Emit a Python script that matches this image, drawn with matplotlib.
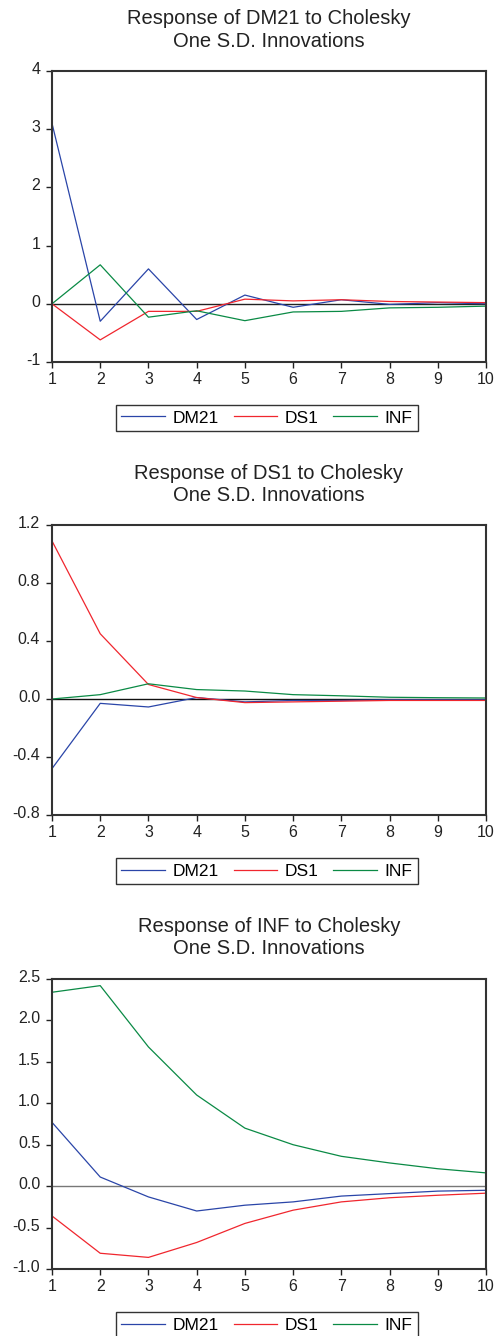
import matplotlib.pyplot as plt
import matplotlib.transforms as mtransforms
import numpy as np

periods = np.arange(1, 11)
series_names = ['DM21', 'DS1', 'INF']
colors = ['#2a45a8', '#f0262e', '#0a8a45']

# Response of DM21
dm21_dm21 = [3.10, -0.30, 0.60, -0.27, 0.15, -0.06, 0.07, -0.01, 0.02, 0.00]
dm21_ds1 = [0.00, -0.62, -0.13, -0.13, 0.08, 0.05, 0.07, 0.04, 0.03, 0.02]
dm21_inf = [0.00, 0.67, -0.23, -0.12, -0.29, -0.14, -0.13, -0.07, -0.06, -0.04]

# Response of DS1
ds1_dm21 = [-0.48, -0.03, -0.055, 0.01, -0.02, -0.01, -0.01, -0.005, -0.005, -0.005]
ds1_ds1 = [1.09, 0.45, 0.10, 0.01, -0.025, -0.02, -0.015, -0.01, -0.01, -0.01]
ds1_inf = [0.00, 0.03, 0.105, 0.065, 0.055, 0.03, 0.022, 0.012, 0.009, 0.007]

# Response of INF
inf_dm21 = [0.77, 0.11, -0.13, -0.30, -0.23, -0.19, -0.12, -0.09, -0.06, -0.05]
inf_ds1 = [-0.36, -0.81, -0.86, -0.68, -0.45, -0.29, -0.19, -0.14, -0.11, -0.085]
inf_inf = [2.34, 2.42, 1.68, 1.10, 0.70, 0.50, 0.36, 0.28, 0.21, 0.16]

panels = [
    ('DM21', [dm21_dm21, dm21_ds1, dm21_inf], (-1, 4), [-1, 0, 1, 2, 3, 4], '%d', '#222222'),
    ('DS1', [ds1_dm21, ds1_ds1, ds1_inf], (-0.8, 1.2), [-0.8, -0.4, 0.0, 0.4, 0.8, 1.2], '%.1f', '#111111'),
    ('INF', [inf_dm21, inf_ds1, inf_inf], (-1.0, 2.5), [-1.0, -0.5, 0.0, 0.5, 1.0, 1.5, 2.0, 2.5], '%.1f', '#777777'),
]

# pixel layout: (axes top, axes bottom, title center y, legend center y)
layout = [(71, 362, 30, 418), (525, 815, 484.5, 871), (979, 1269, 937.5, 1325)]

W, H = 496, 1336
plt.rcParams['font.family'] = ['Liberation Sans', 'DejaVu Sans']
fig = plt.figure(figsize=(W / 100, H / 100), dpi=100)
lift = mtransforms.ScaledTranslation(0, 3 / 100, fig.dpi_scale_trans)

left, right = 52, 486
for (name, data, ylim, yticks, fmt, zcol), (top, bot, ty, ly) in zip(panels, layout):
    ax = fig.add_axes([left / W, 1 - bot / H, (right - left) / W, (bot - top) / H])
    ax.axhline(0, color=zcol, lw=1.0, zorder=1)
    lines = []
    for vals, c, lab in zip(data, colors, series_names):
        ln, = ax.plot(periods, vals, color=c, lw=0.9, label=lab, zorder=2)
        lines.append(ln)
    ax.set_xlim(1, 10)
    ax.set_ylim(*ylim)
    ax.set_xticks(periods)
    ax.set_yticks(yticks)
    ax.set_yticklabels([fmt % v for v in yticks])
    ax.tick_params(direction='out', length=4, width=1, labelsize=11.5,
                   colors='#222222')
    ax.tick_params(axis='x', pad=3)
    ax.tick_params(axis='y', pad=4.5)
    for lbl in ax.get_yticklabels():
        lbl.set_transform(lbl.get_transform() + lift)
    for sp in ax.spines.values():
        sp.set_linewidth(1.5)
        sp.set_color('#333333')
    fig.text(269 / W, 1 - ty / H, 'Response of %s to Cholesky\nOne S.D. Innovations' % name,
             ha='center', va='center', fontsize=14.5, linespacing=1.25, color='#222222')
    fig.legend(lines, series_names, loc='center', bbox_to_anchor=(267 / W, 1 - ly / H),
               ncol=3, frameon=True, fancybox=False, edgecolor='#333333',
               fontsize=12.5, handlelength=2.5, columnspacing=0.85, handletextpad=0.45,
               borderpad=0.3, borderaxespad=0, framealpha=1)

fig.savefig('out.png', dpi=100)
